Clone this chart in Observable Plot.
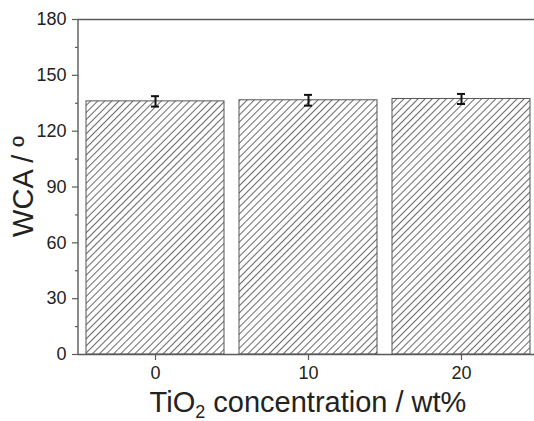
<!DOCTYPE html>
<html><head><meta charset="utf-8">
<script src="https://cdn.jsdelivr.net/npm/d3@7"></script>
<script src="https://cdn.jsdelivr.net/npm/@observablehq/plot@0.6"></script>
<style>body{margin:0;overflow:hidden;background:#fff} svg{overflow:hidden}</style>
</head><body><div id="chart"></div>
<script>
const concentrations = ["0", "10", "20"];
const wca = [136.0, 136.6, 137.3];
const wcaErr = [2.8, 2.9, 2.7];
const yTicks = [0, 30, 60, 90, 120, 150, 180];
const yMinorTicks = [15, 45, 75, 105, 135, 165];
const yDomain = [0, 180];

const data = concentrations.map((c, i) => ({c, v: wca[i], e: wcaErr[i]}));
const capInset = 65;
const axisColor = "#5a5a5a";
const marginLeft = 78;

const plot = Plot.plot({
  width: 534, height: 421,
  marginLeft, marginRight: 0, marginTop: 19, marginBottom: 67,
  style: {fontFamily: "'Liberation Sans', Arial, sans-serif", fontSize: "18px", background: "white", color: "#222", overflow: "hidden"},
  x: {domain: concentrations, range: [marginLeft, 537], paddingInner: 0.1, paddingOuter: 0.05, label: null},
  y: {domain: yDomain, label: null},
  marks: [
    Plot.barY(data, {x: "c", y: "v", fill: "url(#hatch)", stroke: "#555", strokeWidth: 1}),
    Plot.ruleX(data, {x: "c", y1: d => d.v - d.e, y2: d => d.v + d.e, stroke: "#111", strokeWidth: 2}),
    Plot.tickY(data, {x: "c", y: d => d.v - d.e, stroke: "#111", strokeWidth: 2, insetLeft: capInset, insetRight: capInset}),
    Plot.tickY(data, {x: "c", y: d => d.v + d.e, stroke: "#111", strokeWidth: 2, insetLeft: capInset, insetRight: capInset}),
    Plot.axisY({anchor: "left", ticks: yMinorTicks, tickSize: 3, tickFormat: () => "", stroke: axisColor, strokeWidth: 1.2, label: null}),
    Plot.axisY({anchor: "left", ticks: yTicks, tickSize: 6, tickPadding: 6, fontSize: 18, stroke: axisColor, strokeWidth: 1.2, label: null}),
    Plot.axisX({anchor: "bottom", tickSize: 6, tickPadding: 6, fontSize: 18, stroke: axisColor, strokeWidth: 1.2, label: null}),
    Plot.ruleY(yDomain, {stroke: axisColor, strokeWidth: 1.4})
  ]
});

const svg = d3.select(plot);
const defs = svg.insert("defs", ":first-child");
const pat = defs.append("pattern").attr("id", "hatch")
  .attr("patternUnits", "userSpaceOnUse").attr("width", 5).attr("height", 5)
  .attr("patternTransform", "rotate(45)");
pat.append("rect").attr("width", 5).attr("height", 5).attr("fill", "white");
pat.append("line").attr("x1", 0.5).attr("y1", 0).attr("x2", 0.5).attr("y2", 5)
  .attr("stroke", "#444").attr("stroke-width", 0.8);

const xs = plot.scale("x");
const xCenter = (xs.apply(concentrations[0]) + xs.apply(concentrations[concentrations.length - 1]) + xs.bandwidth) / 2;
const ys = plot.scale("y");
const yCenter = (ys.apply(yDomain[0]) + ys.apply(yDomain[1])) / 2;

// left axis line
svg.append("line").attr("x1", marginLeft).attr("x2", marginLeft)
  .attr("y1", ys.apply(yDomain[1])).attr("y2", ys.apply(yDomain[0]))
  .attr("stroke", axisColor).attr("stroke-width", 1.4);

const xl = svg.append("text").attr("x", xCenter).attr("y", 412)
  .attr("text-anchor", "middle").attr("font-size", 29).attr("fill", "#222");
xl.append("tspan").text("TiO");
xl.append("tspan").attr("font-size", 18).attr("dy", 6).text("2");
xl.append("tspan").attr("dy", -6).text(" concentration / wt%");

svg.append("text").attr("transform", `translate(33,${yCenter}) rotate(-90)`)
  .attr("text-anchor", "middle").attr("font-size", 29).attr("fill", "#222")
  .text("WCA / º");

document.getElementById("chart").appendChild(plot);
</script>
</body></html>
